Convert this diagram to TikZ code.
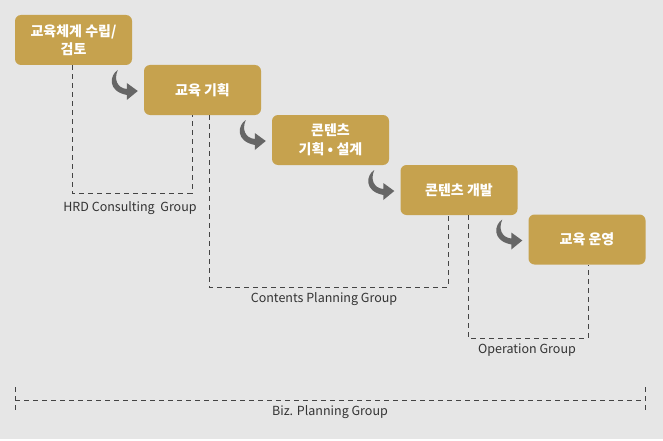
\documentclass[tikz,border=0pt]{standalone}
\usepackage{fontspec}
\setmainfont{Noto Sans CJK KR}
\usetikzlibrary{calc}
\definecolor{gold}{HTML}{C6A24E}
\definecolor{bggray}{HTML}{E6E6E6}
\definecolor{dashgray}{HTML}{444444}
\definecolor{arrowgray}{HTML}{666666}
\definecolor{labelgray}{HTML}{333333}
\newcommand{\turn}[1]{\fill[arrowgray,shift={(#1)}] (8,0) .. controls (0,5) and (-3,21) .. (17,25)
 	-- (17,30) -- (28,21) -- (17,13) -- (17,19) .. controls (7,18) and (4,9) .. (8,0) -- cycle}
\newcommand{\grouplabel}[3]{\node[grplabel] (#1) at (#2) {#3}}

\begin{document}
\begin{tikzpicture}[x=1pt,y=-1pt,
	stepbox/.style={fill=gold,rounded corners=6pt,minimum width=117pt,minimum height=50pt,
		inner sep=0pt,text=white,align=center,font=\bfseries\fontsize{14}{18.5}\selectfont},
	grp/.style={draw=dashgray,line width=0.8pt,dash pattern=on 5pt off 4pt},
	grplabel/.style={text=labelgray,inner sep=0pt,font=\fontsize{12.5}{14}\selectfont}]
%
	\fill[white] (0,0) rectangle (663,441);
	\fill[bggray] (0,0) rectangle (663,439);
	\useasboundingbox (0,0) rectangle (663,441);
%
	\node[stepbox] (b1) at (73.5,40) {교육체계 수립/\\검토};
	\node[stepbox] (b2) at (202.5,90) {교육 기획};
	\node[stepbox] (b3) at (330.5,140) {콘텐츠\\기획 • 설계};
	\node[stepbox] (b4) at (459,190) {콘텐츠 개발};
	\node[stepbox] (b5) at (587,239.5) {교육 운영};
%
	\foreach \k in {2,...,5}{
		\coordinate (t\k) at ($(b\k.west)+(-34,-20)$);
		\turn{t\k};
	}
%
	\draw[grp] (b1.south -| 72,0) |- (192,193) -- (b2.south -| 192,0);
	\draw[grp] (b2.south -| 209,0) |- (448,287) -- (b4.south -| 448,0);
	\draw[grp] (b4.south -| 468,0) |- (588,338) -- (b5.south -| 588,0);
%
	\coordinate (bizL) at (15,400);
	\coordinate (bizR) at (645,400);
	\draw[grp] (bizL) -- (bizR);
	\draw[grp] ($(bizL)+(0,-13)$) -- ($(bizL)+(0,13)$);
	\draw[grp] ($(bizR)+(0,-13)$) -- ($(bizR)+(0,13)$);
%
	\grouplabel{hrd}{130,208}{HRD Consulting\ \ Group};
	\grouplabel{cpg}{324,299}{Contents Planning Group};
	\grouplabel{opg}{527,350}{Operation Group};
	\grouplabel{biz}{330,412}{Biz. Planning Group};
%
\end{tikzpicture}
\end{document}
